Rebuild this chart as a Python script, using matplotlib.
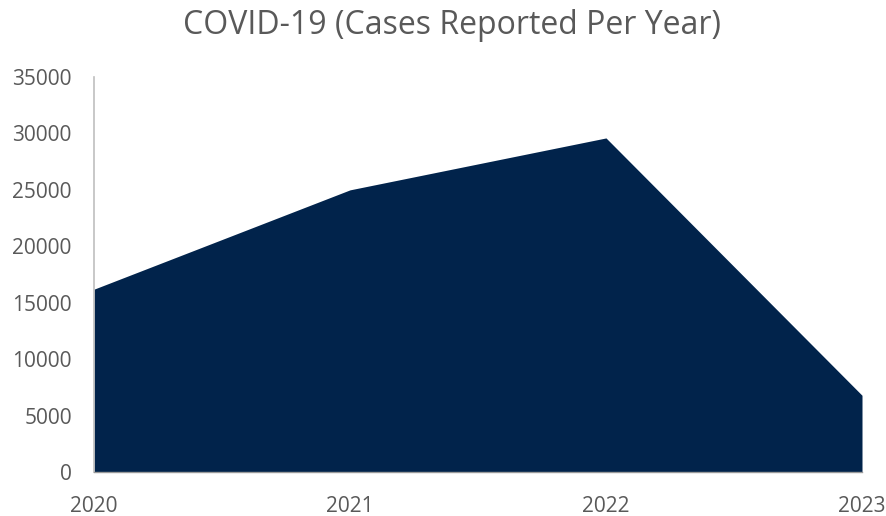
import matplotlib
matplotlib.use("Agg")
import matplotlib.pyplot as plt

years = ["2020", "2021", "2022", "2023"]
cases = [16200, 25000, 29600, 6800]
yticks = [0, 5000, 10000, 15000, 20000, 25000, 30000, 35000]

plt.rcParams['font.family'] = ['Open Sans', 'DejaVu Sans']

fig = plt.figure(figsize=(8.87, 5.16), dpi=100)
ax = fig.add_axes([94/887, 1-472/516, (862-94)/887, (472-77)/516])

x = list(range(len(years)))
ax.fill_between(x, 0, cases, color='#01234B', linewidth=0)
ax.plot([x[0], x[-1]], [0, 0], color='#9a9a9a', linewidth=1.0, zorder=3, clip_on=False)

ax.set_xlim(x[0], x[-1])
ax.set_ylim(0, 35000)
ax.set_yticks(yticks)
ax.set_yticklabels([str(v) for v in yticks])
ax.set_xticks(x)
ax.set_xticklabels(years)

for s in ['top', 'right', 'bottom']:
    ax.spines[s].set_visible(False)
ax.spines['left'].set_color('#bfbfbf')
ax.spines['left'].set_linewidth(1.2)

ax.tick_params(axis='y', length=0, pad=16, labelsize=15, labelcolor='#595959')
ax.tick_params(axis='x', length=0, pad=17, labelsize=15, labelcolor='#595959')

fig.text(452/887, 1-25/516, "COVID-19 (Cases Reported Per Year)", ha='center', va='center',
         fontsize=23, color='#595959')

fig.savefig("out.png", dpi=100)
